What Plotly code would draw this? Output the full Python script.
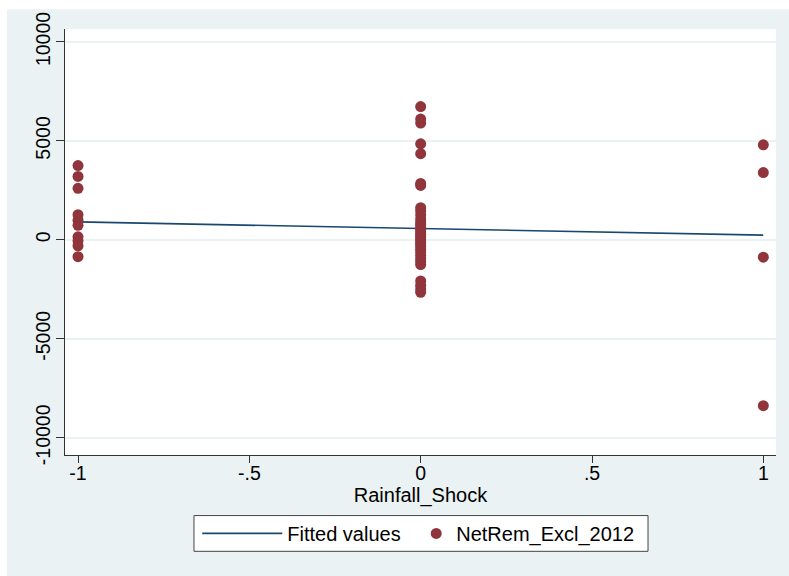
import plotly.graph_objects as go

# ---- data ----
shock_neg = [-1] * 10
netrem_neg = [3750, 3200, 2600, 1270, 990, 730, 150, -50, -300, -850]

shock_zero_vals = [6730, 6100, 5900, 4850, 4350, 2850, 2750,
                   1620, 1450, 1250, 1050, 900, 780, 650, 520, 400, 300, 200, 100, 0,
                   -100, -200, -330, -480, -620, -780, -950, -1100, -1250,
                   -2080, -2300, -2480, -2650]
shock_zero = [0] * len(shock_zero_vals)

shock_pos = [1] * 4
netrem_pos = [4800, 3400, -880, -8380]

fit_x = [-1, 1]
fit_y = [905, 235]

xticks = [-1, -0.5, 0, 0.5, 1]
xtick_labels = ["-1", "-.5", "0", ".5", "1"]
yticks = [-10000, -5000, 0, 5000, 10000]
ytick_labels = ["-10000", "-5000", "0", "5000", "10000"]

xs = shock_neg + shock_zero + shock_pos
ys = netrem_neg + shock_zero_vals + netrem_pos

BG = "#EAF2F3"
FONT = "Liberation Sans, Arial, sans-serif"
FS = 19.5

fig = go.Figure()
fig.add_trace(go.Scatter(x=fit_x, y=fit_y, mode="lines", name="Fitted values",
                         line=dict(color="#1A476F", width=1.6), legend="legend"))
fig.add_trace(go.Scatter(x=xs, y=ys, mode="markers", name="NetRem_Excl_2012",
                         marker=dict(color="#90353B", size=11, line=dict(width=0)),
                         legend="legend2"))

# thin white page border on the left and top
fig.add_shape(type="rect", xref="paper", yref="paper", x0=-0.1, x1=-0.0816, y0=-0.4, y1=1.2,
              fillcolor="white", line=dict(width=0), layer="below")
fig.add_shape(type="rect", xref="paper", yref="paper", x0=-0.1, x1=1.1, y0=1.0466, y1=1.2,
              fillcolor="white", line=dict(width=0), layer="below")
# legend frame
fig.add_shape(type="rect", xref="paper", yref="paper", x0=0.1814, x1=0.820, y0=-0.2261, y1=-0.1422,
              fillcolor="white", line=dict(width=1, color="#444444"), layer="below")

fig.update_layout(
    width=789, height=576,
    margin=dict(l=65, r=13, t=26, b=121),
    paper_bgcolor=BG, plot_bgcolor="white",
    font=dict(family=FONT, size=FS, color="black"),
    showlegend=True,
    legend=dict(orientation="h", x=0.186, xanchor="left", y=-0.184, yanchor="middle",
                bgcolor="rgba(0,0,0,0)", borderwidth=0, font=dict(size=20), itemwidth=80),
    legend2=dict(orientation="h", x=0.494, xanchor="left", y=-0.184, yanchor="middle",
                 bgcolor="rgba(0,0,0,0)", borderwidth=0, font=dict(size=20), itemwidth=30),
    xaxis=dict(range=[-1.038, 1.037], tickvals=xticks, ticktext=xtick_labels,
               showgrid=False, zeroline=False, showline=True, linecolor="#333333", linewidth=1,
               ticks="outside", ticklen=7, tickcolor="#333333", ticklabelstandoff=-6,
               title=dict(text="Rainfall_Shock", standoff=2, font=dict(size=20))),
    yaxis=dict(range=[-10873, 10652], tickvals=yticks, ticktext=ytick_labels, tickangle=-90,
               showgrid=True, gridcolor=BG, gridwidth=1.5, zeroline=False,
               showline=True, linecolor="#333333", linewidth=1,
               ticks="outside", ticklen=8, tickcolor="#333333", ticklabelstandoff=-2),
)

fig.write_html(
    "out.html",
    config={"displayModeBar": False},
    post_script=("document.body.style.margin='0';document.body.style.overflow='hidden';"
                 "document.body.style.background='#EAF2F3';"
                 "document.documentElement.style.background='#EAF2F3';"),
)
